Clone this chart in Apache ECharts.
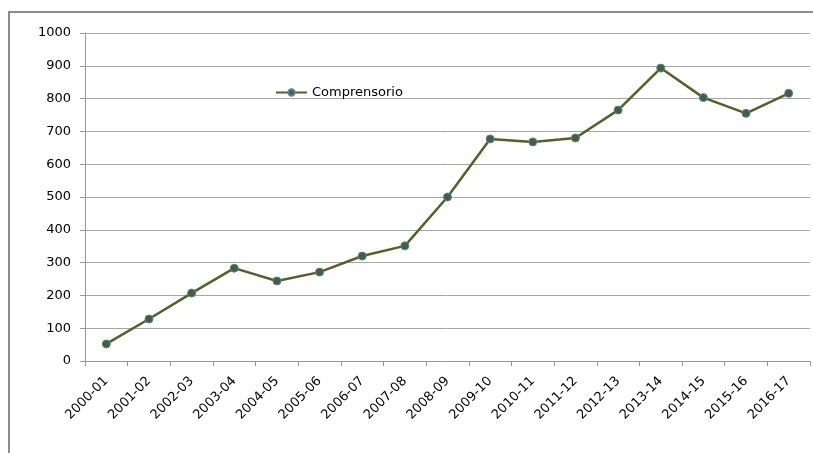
<!DOCTYPE html>
<html>
<head>
<meta charset="utf-8">
<script src="https://cdn.jsdelivr.net/npm/echarts@6/dist/echarts.min.js"></script>
<style>
  html, body { margin: 0; padding: 0; background: #ffffff; }
  #chart { width: 813px; height: 453px; }
</style>
</head>
<body>
<div id="chart"></div>
<script>
const seasons = ['2000-01', '2001-02', '2002-03', '2003-04', '2004-05', '2005-06', '2006-07', '2007-08',
  '2008-09', '2009-10', '2010-11', '2011-12', '2012-13', '2013-14', '2014-15', '2015-16', '2016-17']
const comprensorio = [52, 128, 207, 283, 244, 271, 320, 351, 500, 677, 668, 680, 765, 893, 803, 755, 816]
const seriesName = 'Comprensorio'

var myChart = echarts.init(document.getElementById('chart'))
var font = 'DejaVu Sans'

option = {
  backgroundColor: '#ffffff',
  animation: false,
  graphic: [{
    type: 'rect',
    shape: { x: 9, y: 12, width: 900, height: 500 },
    style: { fill: 'none', stroke: '#8c8c8c', lineWidth: 2 }
  }],
  legend: {
    left: 270,
    top: 81,
    itemWidth: 31,
    itemHeight: 8,
    itemGap: 6,
    textStyle: { fontFamily: font, fontSize: 13, color: '#000' },
    data: [seriesName]
  },
  grid: { left: 85, right: 3, top: 33, bottom: 92 },
  xAxis: {
    type: 'category',
    data: seasons,
    boundaryGap: true,
    axisLine: { lineStyle: { color: '#999', width: 1 } },
    axisTick: { show: true, alignWithLabel: false, length: 5, lineStyle: { color: '#999' } },
    axisLabel: {
      rotate: 45,
      interval: 0,
      margin: 18,
      fontFamily: font,
      fontSize: 13,
      color: '#000'
    }
  },
  yAxis: {
    type: 'value',
    min: 0,
    max: 1000,
    interval: 100,
    axisLine: { show: true, lineStyle: { color: '#999', width: 1 } },
    axisTick: { show: true, length: 5, lineStyle: { color: '#999' } },
    splitLine: { lineStyle: { type: 'solid', color: '#a6a6a6', width: 1 } },
    axisLabel: { fontFamily: font, fontSize: 13, color: '#000', margin: 14, formatter: function (v) { return String(v) } }
  },
  series: [{
    name: seriesName,
    type: 'line',
    data: comprensorio,
    symbol: 'circle',
    symbolSize: 8,
    lineStyle: { color: '#4f6228', width: 2.5 },
    itemStyle: { color: '#41603c', borderColor: '#5f7f9a', borderWidth: 1 }
  }]
}
myChart.setOption(option)
</script>
</body>
</html>
